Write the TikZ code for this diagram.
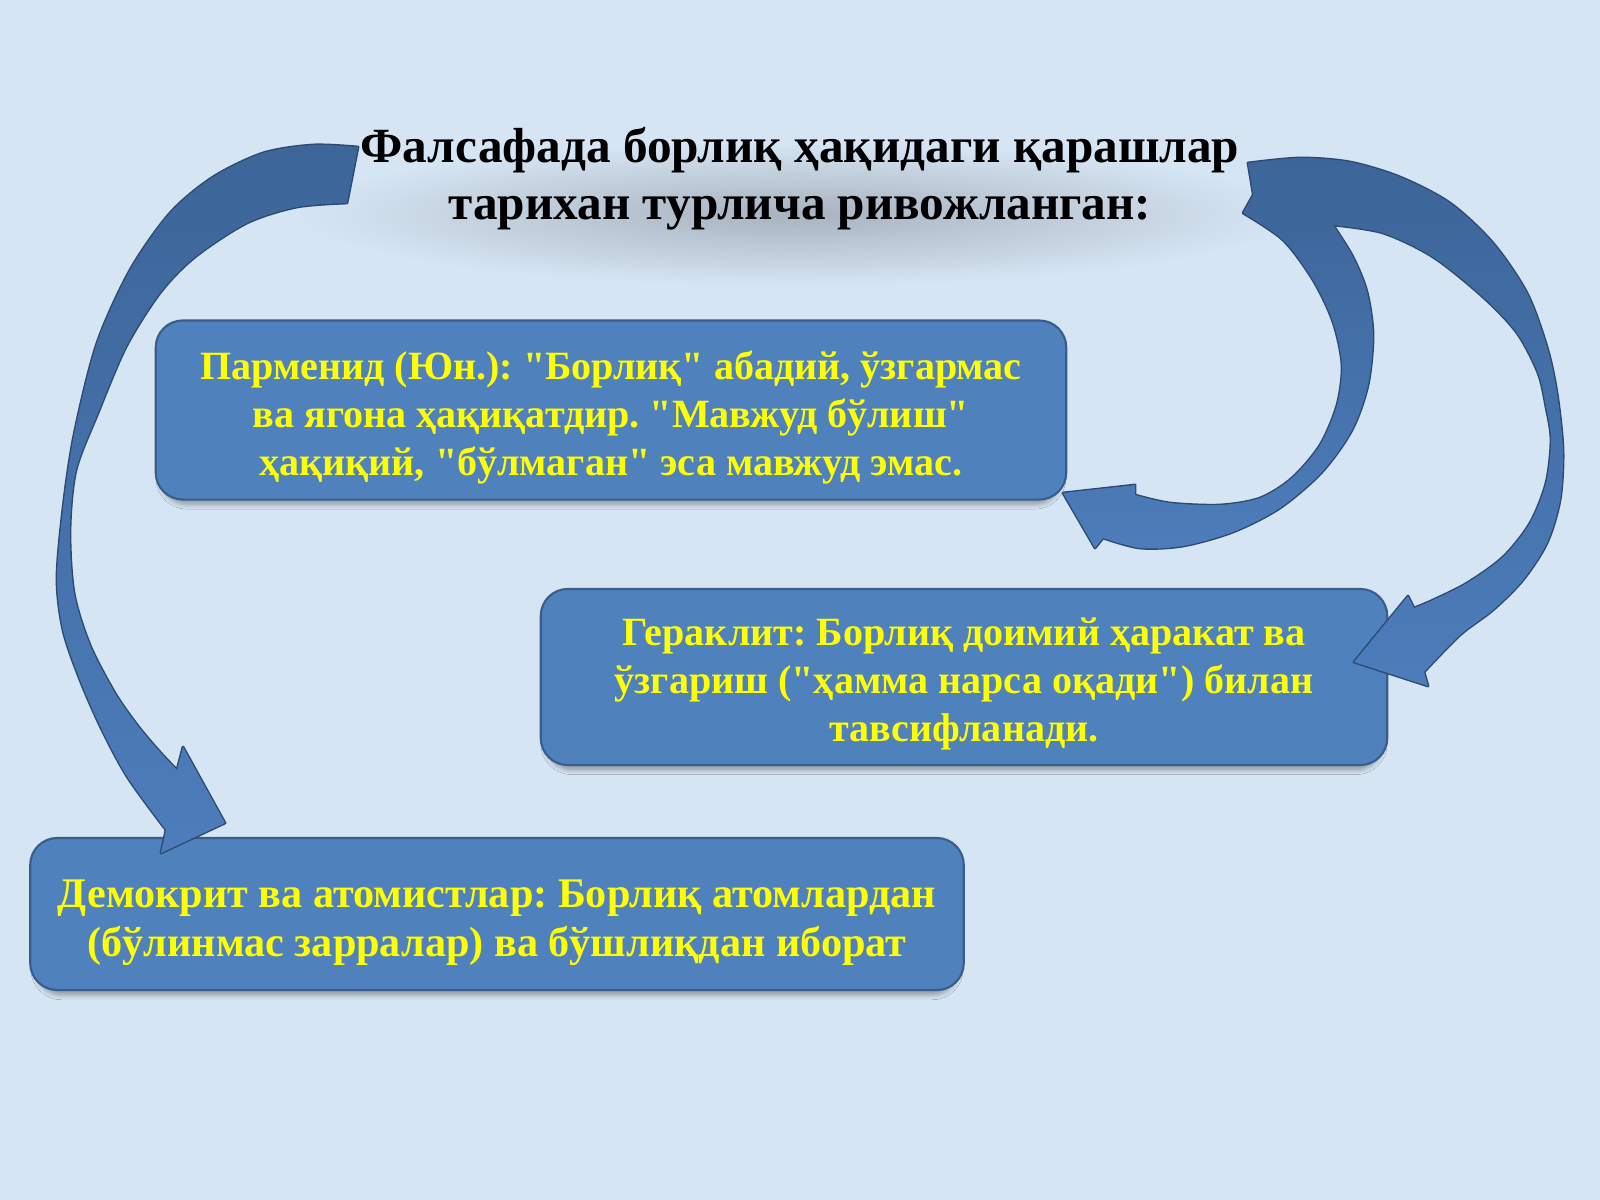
\documentclass[tikz,border=0pt]{standalone}
\usepackage{fontspec}
\setmainfont{Liberation Serif}
\usetikzlibrary{shadows.blur}
\frenchspacing

\definecolor{Paper}{RGB}{214,229,244}
\definecolor{CardBlue}{RGB}{79,129,189}
\definecolor{CardEdge}{RGB}{56,93,138}
\definecolor{RibbonDark}{RGB}{60,101,152}
\definecolor{RibbonLight}{RGB}{77,125,187}
\definecolor{RibbonRim}{RGB}{44,74,112}
\definecolor{TextYellow}{RGB}{255,255,0}

\begin{document}
\begin{tikzpicture}
[
x=0.01cm, y=-0.01cm,
Card/.style={rectangle, rounded corners=0.27cm, draw=CardEdge, fill=CardBlue, line width=0.6pt, text=TextYellow, font=\fontsize{11.4}{13.6}\selectfont\bfseries, inner sep=0pt, blur shadow={shadow xshift=0pt, shadow yshift=-1.8pt, shadow blur radius=1.2pt, shadow scale=0.99, shadow opacity=30}},
Heading/.style={text=black, font=\fontsize{14}{16.2}\selectfont\bfseries, align=center},
TitleHaze/.style={inner color=black!22!Paper, outer color=Paper},
RibbonRimLine/.style={draw=RibbonRim, line width=0.8pt, line join=round},
RibbonBody/.style={top color=RibbonDark, bottom color=RibbonLight},
]

\useasboundingbox (0,0) rectangle (1600,1200);
\fill[Paper] (0,0) rectangle (1600,1200);

\shade[TitleHaze] (795,214) ellipse (500 and 72);
\node[Heading] (title) at (800,179) {Фалсафада борлиқ ҳақидаги қарашлар\\тарихан турлича ривожланган:};

\node[Card, minimum width=9.10cm, minimum height=1.79cm] (parmenid) at (611,410) {\raisebox{-0.08cm}[\height][\depth]{\begin{tabular}{@{}c@{}}Парменид (Юн.): \textquotedbl Борлиқ\textquotedbl{} абадий, ўзгармас\\ва ягона ҳақиқатдир. \textquotedbl Мавжуд бўлиш\textquotedbl\\ҳақиқий, \textquotedbl бўлмаган\textquotedbl{} эса мавжуд эмас.\end{tabular}}};
\node[Card, minimum width=8.46cm, minimum height=1.76cm] (heraclit) at (964,677) {\raisebox{-0.07cm}[\height][\depth]{\begin{tabular}{@{}c@{}}Гераклит: Борлиқ доимий ҳаракат ва\\ўзгариш (\textquotedbl ҳамма нарса оқади\textquotedbl) билан\\тавсифланади.\end{tabular}}};
\node[Card, minimum width=9.33cm, minimum height=1.52cm, font=\fontsize{12}{14.2}\selectfont\bfseries] (democrit) at (497,914) {\raisebox{-0.08cm}[\height][\depth]{\begin{tabular}{@{}c@{}}Демокрит ва атомистлар: Борлиқ атомлардан\\(бўлинмас зарралар) ва бўшлиқдан иборат\end{tabular}}};

\path[save path=\RibbonLeft] plot[smooth] coordinates {(358,147) (313,145) (263,153) (213,177) (170,213) (130,270) (97,343) (75,430) (64,500) (57,577) (63,630) (80,680) (102,730) (128,778) (166,830)}
  -- (161,853) -- (225,823) -- (183,747)
  -- plot[smooth] coordinates {(177,770) (160,752) (138,726) (115,693) (90,645) (74,593) (70,530) (76,470) (98,413) (126,347) (160,293) (195,257) (247,223) (297,207) (347,203)} -- cycle;

\path[save path=\RibbonOuter] plot[smooth] coordinates {(1248,163) (1300,158) (1350,162) (1400,177) (1450,203) (1493,243) (1527,293) (1547,347) (1557,393) (1563,450) (1560,500) (1547,543) (1523,580) (1493,610) (1460,635) (1424,672)}
  -- (1428,686) -- (1354,662) -- (1408,596)
  -- plot[smooth] coordinates {(1414,608) (1433,600) (1467,583) (1503,557) (1530,523) (1546,483) (1551,440) (1546,407) (1538,373) (1517,333) (1483,297) (1433,257) (1383,233) (1333,225)}
  -- (1256,206) -- (1253,193) -- cycle;

\path[save path=\RibbonInner] (1243,213) -- (1256,190) -- (1333,215)
  -- plot[smooth] coordinates {(1333,225) (1353,257) (1367,292) (1373,335) (1368,385) (1352,430) (1322,472) (1280,508) (1233,532) (1183,546) (1140,548) (1103,538)}
  -- (1095,548) -- (1063,493) -- (1135,485)
  -- plot[smooth] coordinates {(1135,495) (1170,503) (1220,505) (1260,498) (1292,478) (1320,445) (1337,405) (1342,365) (1333,322) (1313,280) (1283,240) (1243,213)} -- cycle;

\draw[RibbonRimLine, use path=\RibbonLeft];
\begin{scope}
\clip[use path=\RibbonLeft];
\shade[RibbonBody] (40,130) rectangle (380,870);
\end{scope}

\draw[RibbonRimLine, use path=\RibbonOuter];
\draw[RibbonRimLine, use path=\RibbonInner];
\begin{scope}
\clip[use path=\RibbonOuter];
\shade[RibbonBody] (1230,150) rectangle (1580,700);
\end{scope}
\begin{scope}
\clip[use path=\RibbonInner];
\shade[RibbonBody] (1050,180) rectangle (1390,560);
\end{scope}

\end{tikzpicture}
\end{document}
